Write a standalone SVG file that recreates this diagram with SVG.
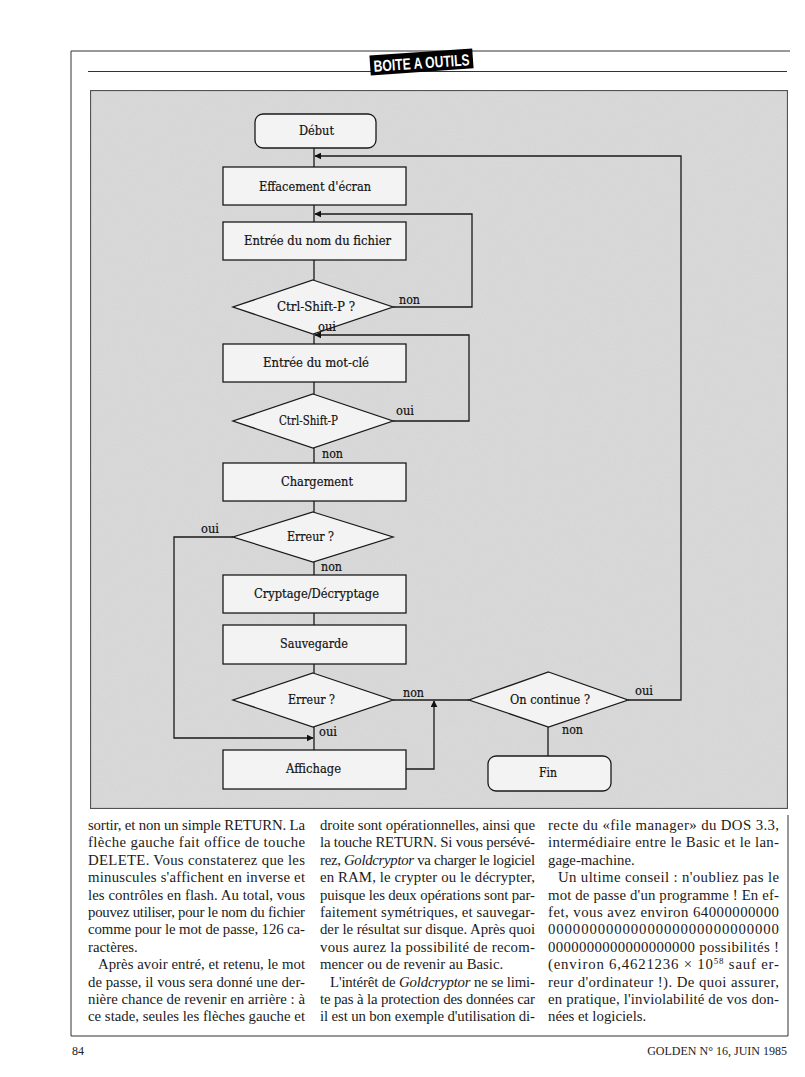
<svg xmlns="http://www.w3.org/2000/svg" width="805" height="1077" viewBox="0 0 805 1077">
<defs>
<marker id="ah" viewBox="0 0 10 10" refX="9" refY="5" markerWidth="7" markerHeight="7" markerUnits="userSpaceOnUse" orient="auto">
<path d="M0,0 L10,5 L0,10 z" fill="#111"/>
</marker>
<filter id="grain" x="0" y="0" width="100%" height="100%">
<feTurbulence type="fractalNoise" baseFrequency="0.9" numOctaves="2" seed="3" result="n"/>
<feColorMatrix type="matrix" values="0 0 0 0 0  0 0 0 0 0  0 0 0 0 0  0 0 0 0.08 0" in="n" result="m"/>
<feComposite in="m" in2="SourceGraphic" operator="in" result="c"/>
<feMerge><feMergeNode in="SourceGraphic"/><feMergeNode in="c"/></feMerge>
</filter>
</defs>
<style>
.box{fill:#f3f3f3;stroke:#1a1a1a;stroke-width:1.3}
.lbl{font-family:"DejaVu Serif","Liberation Serif",serif;font-size:12.5px;fill:#111;stroke:#111;stroke-width:0.2;text-anchor:middle}
.yn{font-family:"DejaVu Serif","Liberation Serif",serif;font-size:12.5px;fill:#111;stroke:#111;stroke-width:0.2}
.wire{fill:none;stroke:#1a1a1a;stroke-width:1.3}
.body{font-family:"Liberation Serif","DejaVu Serif",serif;font-size:14.8px;fill:#1a1a1a}
.foot{font-family:"Liberation Serif",serif;font-size:12px;fill:#222}
</style>
<rect x="0" y="0" width="805" height="1077" fill="#ffffff"/>
<!-- page frame -->
<g id="frame" fill="none" stroke="#333" stroke-width="1">
<path d="M71,1036 L71,51 L790,51"/>
<path d="M71,1036 L788,1036 L788,815"/>
<line x1="88" y1="71.5" x2="787" y2="71.5"/>
</g>
<g id="header">
<g transform="rotate(-4 421 62)">
<rect x="370" y="52" width="103" height="20" fill="#000"/>
<text x="421.5" y="68.5" font-family="Liberation Sans Narrow,Liberation Sans,sans-serif" font-weight="bold" font-size="16px" fill="#fff" text-anchor="middle" textLength="96" lengthAdjust="spacingAndGlyphs">BOITE A OUTILS</text>
</g>
</g>
<!-- panel -->
<g id="panel">
<rect x="90.5" y="90.5" width="697" height="718" fill="#dcdcdc" stroke="#555" stroke-width="1.2" filter="url(#grain)"/>
</g>
<!-- nodes -->
<g id="n-debut"><rect class="box" x="255" y="114" width="121" height="34" rx="8"/><text class="lbl" x="316.5" y="135" textLength="35" lengthAdjust="spacingAndGlyphs">Début</text></g>
<g id="n-effacement"><rect class="box" x="223" y="167" width="183" height="38"/><text class="lbl" x="315" y="191" textLength="112" lengthAdjust="spacingAndGlyphs">Effacement d'écran</text></g>
<g id="n-nom"><rect class="box" x="223" y="222" width="183" height="38"/><text class="lbl" x="317.5" y="245" textLength="147" lengthAdjust="spacingAndGlyphs">Entrée du nom du fichier</text></g>
<g id="n-ctrl1"><polygon class="box" points="313,280 393,307 313,334 233,307"/><text class="lbl" x="316" y="311" textLength="78" lengthAdjust="spacingAndGlyphs">Ctrl-Shift-P ?</text></g>
<g id="n-motcle"><rect class="box" x="223" y="344" width="183" height="38"/><text class="lbl" x="316" y="367" textLength="106" lengthAdjust="spacingAndGlyphs">Entrée du mot-clé</text></g>
<g id="n-ctrl2"><polygon class="box" points="313,394 393,421 313,448 233,421"/><text class="lbl" x="308.5" y="425" textLength="59" lengthAdjust="spacingAndGlyphs">Ctrl-Shift-P</text></g>
<g id="n-chargement"><rect class="box" x="223" y="463" width="183" height="38"/><text class="lbl" x="317" y="486" textLength="72" lengthAdjust="spacingAndGlyphs">Chargement</text></g>
<g id="n-erreur1"><polygon class="box" points="313,512 393,537 313,562 233,537"/><text class="lbl" x="310.5" y="541" textLength="47" lengthAdjust="spacingAndGlyphs">Erreur ?</text></g>
<g id="n-cryptage"><rect class="box" x="223" y="575" width="183" height="38"/><text class="lbl" x="316.5" y="598" textLength="125" lengthAdjust="spacingAndGlyphs">Cryptage/Décryptage</text></g>
<g id="n-sauvegarde"><rect class="box" x="223" y="625" width="183" height="39"/><text class="lbl" x="314" y="648" textLength="68" lengthAdjust="spacingAndGlyphs">Sauvegarde</text></g>
<g id="n-erreur2"><polygon class="box" points="313,673 393,700 313,727 233,700"/><text class="lbl" x="311.5" y="704" textLength="47" lengthAdjust="spacingAndGlyphs">Erreur ?</text></g>
<g id="n-affichage"><rect class="box" x="223" y="750" width="183" height="39"/><text class="lbl" x="313.5" y="773" textLength="55" lengthAdjust="spacingAndGlyphs">Affichage</text></g>
<g id="n-continue"><polygon class="box" points="548.5,672 628,700 548.5,727 469,700"/><text class="lbl" x="550" y="704" textLength="80" lengthAdjust="spacingAndGlyphs">On continue ?</text></g>
<g id="n-fin"><rect class="box" x="488" y="756" width="123" height="35" rx="8"/><text class="lbl" x="548" y="777" textLength="18" lengthAdjust="spacingAndGlyphs">Fin</text></g>
<!-- connectors -->
<g id="connectors">
<line class="wire" x1="314" y1="148" x2="314" y2="167"/>
<line class="wire" x1="314" y1="205" x2="314" y2="222"/>
<line class="wire" x1="314" y1="260" x2="314" y2="280"/>
<line class="wire" x1="314" y1="334" x2="314" y2="344"/>
<line class="wire" x1="314" y1="382" x2="314" y2="394"/>
<line class="wire" x1="314" y1="448" x2="314" y2="463"/>
<line class="wire" x1="314" y1="501" x2="314" y2="512"/>
<line class="wire" x1="314" y1="562" x2="314" y2="575"/>
<line class="wire" x1="314" y1="613" x2="314" y2="625"/>
<line class="wire" x1="314" y1="664" x2="314" y2="673"/>
<line class="wire" x1="314" y1="727" x2="314" y2="750"/>
<path class="wire" d="M628,700 L681,700 L681,156 L315,156" marker-end="url(#ah)"/>
<path class="wire" d="M393,307 L472,307 L472,214 L315,214" marker-end="url(#ah)"/>
<path class="wire" d="M393,421 L469,421 L469,335 L315,335" marker-end="url(#ah)"/>
<path class="wire" d="M233,537 L174,537 L174,738 L313,738" marker-end="url(#ah)"/>
<line class="wire" x1="393" y1="700" x2="469" y2="700"/>
<path class="wire" d="M406,769 L434,769 L434,701" marker-end="url(#ah)"/>
<line class="wire" x1="548" y1="727" x2="548" y2="756"/>
<text class="yn" x="399" y="304" textLength="21" lengthAdjust="spacingAndGlyphs">non</text>
<text class="yn" x="318" y="331" textLength="18" lengthAdjust="spacingAndGlyphs">oui</text>
<text class="yn" x="396" y="415" textLength="18" lengthAdjust="spacingAndGlyphs">oui</text>
<text class="yn" x="322" y="458" textLength="21" lengthAdjust="spacingAndGlyphs">non</text>
<text class="yn" x="201" y="533" textLength="18" lengthAdjust="spacingAndGlyphs">oui</text>
<text class="yn" x="321" y="571" textLength="21" lengthAdjust="spacingAndGlyphs">non</text>
<text class="yn" x="403" y="697" textLength="21" lengthAdjust="spacingAndGlyphs">non</text>
<text class="yn" x="319" y="736" textLength="18" lengthAdjust="spacingAndGlyphs">oui</text>
<text class="yn" x="635" y="695" textLength="18" lengthAdjust="spacingAndGlyphs">oui</text>
<text class="yn" x="562" y="734" textLength="21" lengthAdjust="spacingAndGlyphs">non</text>
</g>
<!-- body text -->
<g id="col1" class="body">
<text x="88" y="830" textLength="217" lengthAdjust="spacing">sortir, et non un simple RETURN. La</text>
<text x="88" y="847.4" textLength="217" lengthAdjust="spacing">flèche gauche fait office de touche</text>
<text x="88" y="864.8" textLength="217" lengthAdjust="spacing">DELETE. Vous constaterez que les</text>
<text x="88" y="882.2" textLength="217" lengthAdjust="spacing">minuscules s'affichent en inverse et</text>
<text x="88" y="899.6" textLength="217" lengthAdjust="spacing">les contrôles en flash. Au total, vous</text>
<text x="88" y="917" textLength="217" lengthAdjust="spacing">pouvez utiliser, pour le nom du fichier</text>
<text x="88" y="934.4" textLength="217" lengthAdjust="spacing">comme pour le mot de passe, 126 ca-</text>
<text x="88" y="951.8">ractères.</text>
<text x="98" y="969.2" textLength="207" lengthAdjust="spacing">Après avoir entré, et retenu, le mot</text>
<text x="88" y="986.6" textLength="217" lengthAdjust="spacing">de passe, il vous sera donné une der-</text>
<text x="88" y="1004" textLength="217" lengthAdjust="spacing">nière chance de revenir en arrière : à</text>
<text x="88" y="1021.4" textLength="217" lengthAdjust="spacing">ce stade, seules les flèches gauche et</text>
</g>
<g id="col2" class="body">
<text x="320" y="830" textLength="215" lengthAdjust="spacing">droite sont opérationnelles, ainsi que</text>
<text x="320" y="847.4" textLength="215" lengthAdjust="spacing">la touche RETURN. Si vous persévé-</text>
<text x="320" y="864.8" textLength="215" lengthAdjust="spacing">rez, <tspan font-style="italic">Goldcryptor</tspan> va charger le logiciel</text>
<text x="320" y="882.2" textLength="215" lengthAdjust="spacing">en RAM, le crypter ou le décrypter,</text>
<text x="320" y="899.6" textLength="215" lengthAdjust="spacing">puisque les deux opérations sont par-</text>
<text x="320" y="917" textLength="215" lengthAdjust="spacing">faitement symétriques, et sauvegar-</text>
<text x="320" y="934.4" textLength="215" lengthAdjust="spacing">der le résultat sur disque. Après quoi</text>
<text x="320" y="951.8" textLength="215" lengthAdjust="spacing">vous aurez la possibilité de recom-</text>
<text x="320" y="969.2">mencer ou de revenir au Basic.</text>
<text x="330" y="986.6" textLength="205" lengthAdjust="spacing">L'intérêt de <tspan font-style="italic">Goldcryptor</tspan> ne se limi-</text>
<text x="320" y="1004" textLength="215" lengthAdjust="spacing">te pas à la protection des données car</text>
<text x="320" y="1021.4" textLength="215" lengthAdjust="spacing">il est un bon exemple d'utilisation di-</text>
</g>
<g id="col3" class="body">
<text x="548" y="830" textLength="231" lengthAdjust="spacing">recte du «file manager» du DOS 3.3,</text>
<text x="548" y="847.4" textLength="231" lengthAdjust="spacing">intermédiaire entre le Basic et le lan-</text>
<text x="548" y="864.8">gage-machine.</text>
<text x="558" y="882.2" textLength="221" lengthAdjust="spacing">Un ultime conseil : n'oubliez pas le</text>
<text x="548" y="899.6" textLength="231" lengthAdjust="spacing">mot de passe d'un programme ! En ef-</text>
<text x="548" y="917" textLength="231" lengthAdjust="spacing">fet, vous avez environ 64000000000</text>
<text x="548" y="934.4" textLength="231" lengthAdjust="spacing">0000000000000000000000000000</text>
<text x="548" y="951.8" textLength="231" lengthAdjust="spacing">0000000000000000000 possibilités !</text>
<text x="548" y="969.2" textLength="231" lengthAdjust="spacing">(environ 6,4621236 × 10<tspan font-size="9px" dy="-5">58</tspan><tspan dy="5"> sauf er-</tspan></text>
<text x="548" y="986.6" textLength="231" lengthAdjust="spacing">reur d'ordinateur !). De quoi assurer,</text>
<text x="548" y="1004" textLength="231" lengthAdjust="spacing">en pratique, l'inviolabilité de vos don-</text>
<text x="548" y="1021.4">nées et logiciels.</text>
</g>
<g id="footer" class="foot">
<text x="72" y="1055">84</text>
<text x="787" y="1055" text-anchor="end">GOLDEN N° 16, JUIN 1985</text>
</g>
</svg>
